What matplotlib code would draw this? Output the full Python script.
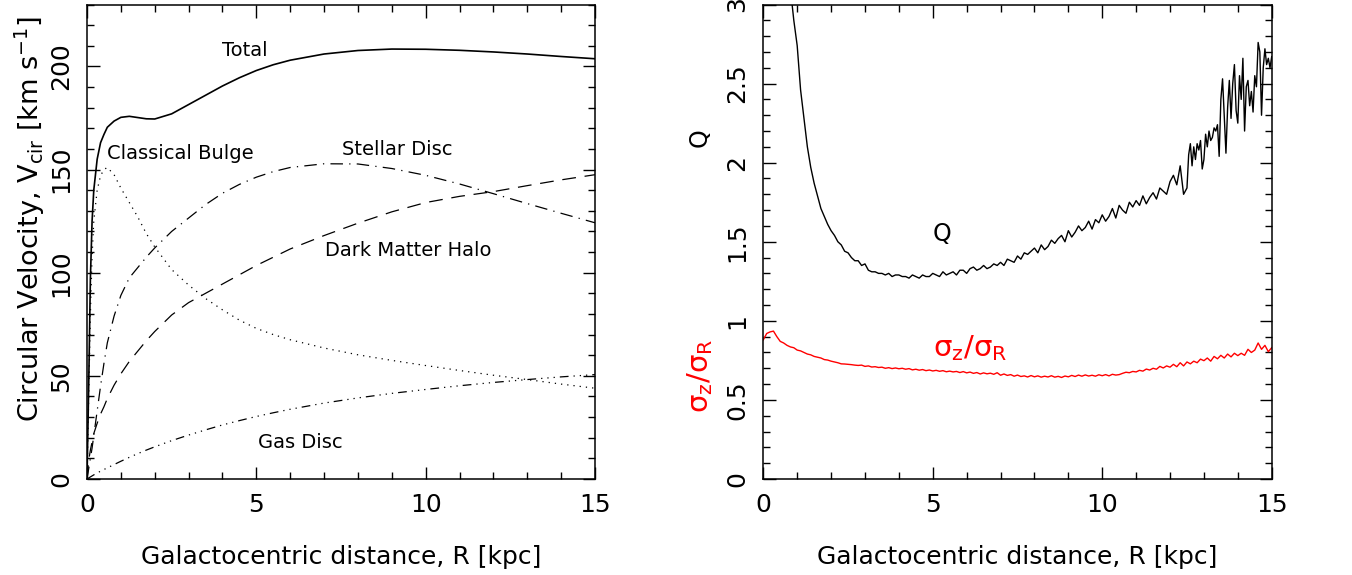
import numpy as np
import matplotlib
matplotlib.use("Agg")
import matplotlib.pyplot as plt
from matplotlib.ticker import MultipleLocator, FormatStrFormatter

plt.rcParams['font.family'] = ['DejaVu Sans']
plt.rcParams['mathtext.fontset'] = 'dejavusans'

# ---- left panel: rotation curve components ----
R_vc = [0, 0.05, 0.1, 0.15, 0.2, 0.3, 0.4, 0.5, 0.6, 0.8, 1.0, 1.25, 1.5, 1.75, 2.0, 2.5,
        3, 3.5, 4, 4.5, 5, 5.5, 6, 7, 8, 9, 10, 11, 12, 13, 14, 15]
v_total = [0, 45, 97, 125, 140, 155, 163, 167, 170.5, 173.5, 175.3, 175.8, 175.2, 174.6, 174.5, 177,
           181.5, 186, 190.5, 194.5, 198, 200.8, 203, 206, 207.7, 208.4, 208.3, 207.8, 207, 206, 204.8, 203.7]
v_bulge = [0, 40, 80, 108, 125, 140, 147, 150, 151, 147.5, 141, 134, 127, 119, 112.5, 101.5,
           94, 87.5, 82, 77, 73, 70, 67.5, 63.5, 60.2, 57.5, 55, 52.6, 50.3, 48.2, 46, 44]
v_stellar = [0, 5, 10, 15, 21, 33, 45, 56, 66, 79, 89, 97.5, 102.5, 107.5, 112, 120,
             126.5, 133, 138.5, 142.8, 146.3, 149, 151, 152.8, 152.7, 150.5, 147.2, 143, 138.3, 133.5, 128.8, 124.2]
v_halo = [0, 9, 14, 18, 22, 27, 31.5, 35, 39, 45.5, 51, 57, 62, 67, 71.5, 79.5,
          85.5, 90, 94.5, 99, 103.5, 107.5, 111.5, 118, 124, 129.5, 134, 137, 139.3, 142.2, 145, 147.5]
v_gas = [0, 0.5, 1, 1.5, 2, 2.9, 3.8, 4.6, 5.4, 7, 8.6, 10.5, 12.3, 14, 15.6, 18.6,
         21.3, 23.8, 26.2, 28.3, 30.3, 32.1, 33.8, 36.8, 39.3, 41.5, 43.4, 45.2, 46.8, 48.2, 49.5, 50.6]

# ---- right panel: Toomre Q and sigma_z/sigma_R ----
R_q = list(np.round(np.arange(0.8, 12.45, 0.1), 2)) + list(np.round(np.arange(12.5, 15.001, 0.05), 2))
q_vals = [3.10, 2.90, 2.74, 2.46, 2.28, 2.10, 1.97, 1.87, 1.79, 1.71, 1.66, 1.61, 1.57, 1.54, 1.50, 1.48,
          1.44, 1.43, 1.40, 1.38, 1.38, 1.35, 1.36, 1.32, 1.31, 1.31, 1.30, 1.30, 1.29, 1.30, 1.28, 1.29,
          1.29, 1.28, 1.28, 1.27, 1.29, 1.28, 1.27, 1.29, 1.28, 1.28, 1.30, 1.29, 1.28, 1.31, 1.29, 1.30,
          1.31, 1.29, 1.32, 1.32, 1.30, 1.33, 1.34, 1.32, 1.33, 1.35, 1.33, 1.34, 1.36, 1.35, 1.37, 1.35,
          1.39, 1.38, 1.37, 1.41, 1.39, 1.43, 1.42, 1.44, 1.46, 1.43, 1.48, 1.45, 1.47, 1.51, 1.49, 1.52,
          1.54, 1.50, 1.57, 1.53, 1.56, 1.60, 1.57, 1.59, 1.63, 1.58, 1.64, 1.62, 1.67, 1.63, 1.66, 1.71,
          1.65, 1.73, 1.70, 1.68, 1.75, 1.72, 1.76, 1.73, 1.79, 1.74, 1.78, 1.81, 1.77, 1.84, 1.82, 1.80,
          1.88, 1.92, 1.86, 1.98, 1.80,
          1.84, 2.05, 2.12, 1.98, 2.10, 2.02, 2.12, 2.08, 2.14, 1.96, 2.02, 2.18, 2.10, 2.20, 2.14, 2.16,
          2.22, 2.20, 2.24, 2.04, 2.40, 2.53, 2.30, 2.06, 2.35, 2.52, 2.28, 2.50, 2.62, 2.33, 2.25, 2.55,
          2.40, 2.66, 2.20, 2.48, 2.52, 2.36, 2.45, 2.32, 2.55, 2.48, 2.76, 2.70, 2.30, 2.60, 2.72, 2.62,
          2.66, 2.60, 2.67]

R_sig = np.round(np.arange(0, 15.001, 0.1), 2)
sig_ratio = [0.88, 0.92, 0.93, 0.935, 0.90, 0.87, 0.86, 0.845, 0.835, 0.83, 0.815, 0.81, 0.80, 0.79, 0.785, 0.775,
             0.77, 0.765, 0.755, 0.752, 0.745, 0.74, 0.735, 0.728, 0.727, 0.725, 0.723, 0.72, 0.718, 0.72, 0.712,
             0.715, 0.708, 0.71, 0.705, 0.707, 0.70, 0.704, 0.698, 0.702, 0.697, 0.70, 0.694, 0.698, 0.69, 0.694,
             0.688, 0.692, 0.685, 0.689, 0.683, 0.687, 0.681, 0.685, 0.678, 0.682, 0.677, 0.68, 0.673, 0.679,
             0.671, 0.676, 0.668, 0.673, 0.664, 0.671, 0.665, 0.669, 0.662, 0.672, 0.656, 0.664, 0.655, 0.66,
             0.65, 0.657, 0.648, 0.652, 0.645, 0.654, 0.646, 0.652, 0.644, 0.65, 0.645, 0.653, 0.644, 0.649,
             0.642, 0.651, 0.646, 0.655, 0.648, 0.657, 0.65, 0.658, 0.651, 0.656, 0.65, 0.659, 0.653, 0.66,
             0.652, 0.662, 0.657, 0.66, 0.668, 0.675, 0.672, 0.68, 0.677, 0.687, 0.682, 0.695, 0.689, 0.70,
             0.694, 0.712, 0.702, 0.715, 0.707, 0.725, 0.71, 0.735, 0.715, 0.74, 0.728, 0.745, 0.735, 0.758,
             0.748, 0.765, 0.745, 0.775, 0.76, 0.782, 0.765, 0.79, 0.772, 0.795, 0.78, 0.795, 0.782, 0.82,
             0.80, 0.815, 0.86, 0.82, 0.845, 0.805, 0.83]

FS = 18
W, H = 1352, 575

fig = plt.figure(figsize=(W / 100, H / 100), dpi=100)
ax1 = fig.add_axes([87 / W, 96 / H, 508 / W, 474.5 / H])
ax2 = fig.add_axes([763.3 / W, 96 / H, 508.4 / W, 474.5 / H])


def style_axes(ax, ymaj, ymin, fmt):
    ax.xaxis.set_major_locator(MultipleLocator(5))
    ax.xaxis.set_minor_locator(MultipleLocator(1))
    ax.yaxis.set_major_locator(MultipleLocator(ymaj))
    ax.yaxis.set_minor_locator(MultipleLocator(ymin))
    ax.yaxis.set_major_formatter(FormatStrFormatter(fmt))
    ax.xaxis.set_major_formatter(FormatStrFormatter('%g'))
    ax.tick_params(which='both', direction='in', top=True, right=True, width=1.0)
    ax.tick_params(which='major', length=9, labelsize=FS, pad=10)
    ax.tick_params(which='minor', length=4.8)
    ax.tick_params(axis='y', labelrotation=90)
    for lbl in ax.get_yticklabels():
        lbl.set_va('center')
    for sp in ax.spines.values():
        sp.set_linewidth(1.1)
    ax.set_xlabel('Galactocentric distance, R [kpc]', fontsize=FS, labelpad=20)


lw = 0.9
ax1.plot(R_vc, v_total, color='black', lw=lw + 0.3, ls='-')
ax1.plot(R_vc, v_bulge, color='black', lw=lw, ls=(0, (1, 4)))
ax1.plot(R_vc, v_stellar, color='black', lw=lw, ls=(0, (10, 5, 1, 5)))
ax1.plot(R_vc, v_halo, color='black', lw=lw, ls=(0, (11, 7)))
ax1.plot(R_vc, v_gas, color='black', lw=lw, ls=(0, (7, 4, 1, 4, 1, 4, 1, 4)))
ax1.set_xlim(0, 15)
ax1.set_ylim(0, 230)
style_axes(ax1, 50, 10, '%g')
ax1.text(4.66, 207.5, 'Total', fontsize=14, ha='center', va='center')
ax1.text(2.75, 157.7, 'Classical Bulge', fontsize=14, ha='center', va='center')
ax1.text(9.15, 159.6, 'Stellar Disc', fontsize=14, ha='center', va='center')
ax1.text(9.48, 110.8, 'Dark Matter Halo', fontsize=14, ha='center', va='center')
ax1.text(6.29, 17.9, 'Gas Disc', fontsize=14, ha='center', va='center')
fig.text(30 / W, 1 - 219 / H, r'Circular Velocity, V$_{\rm cir}$ [km s$^{-1}$]',
         rotation=90, fontsize=19.5, ha='center', va='center')

ax2.plot(R_q, q_vals, color='black', lw=lw + 0.1)
ax2.plot(R_sig, sig_ratio, color='red', lw=lw + 0.1)
ax2.set_xlim(0, 15)
ax2.set_ylim(0, 3)
style_axes(ax2, 0.5, 0.1, '%g')
ax2.text(5.27, 1.55, 'Q', fontsize=17, ha='center', va='center')
ax2.text(6.1, 0.83, 'σ$_{\\rm z}$/σ$_{\\rm R}$', fontsize=21, ha='center', va='center', color='red')
fig.text(700 / W, 1 - 138 / H, 'Q', rotation=90, fontsize=17, ha='center', va='center')
fig.text(700 / W, 1 - 376 / H, 'σ$_{\\rm z}$/σ$_{\\rm R}$', rotation=90, fontsize=21,
         ha='center', va='center', color='red')

fig.savefig('out.png', dpi=100)
